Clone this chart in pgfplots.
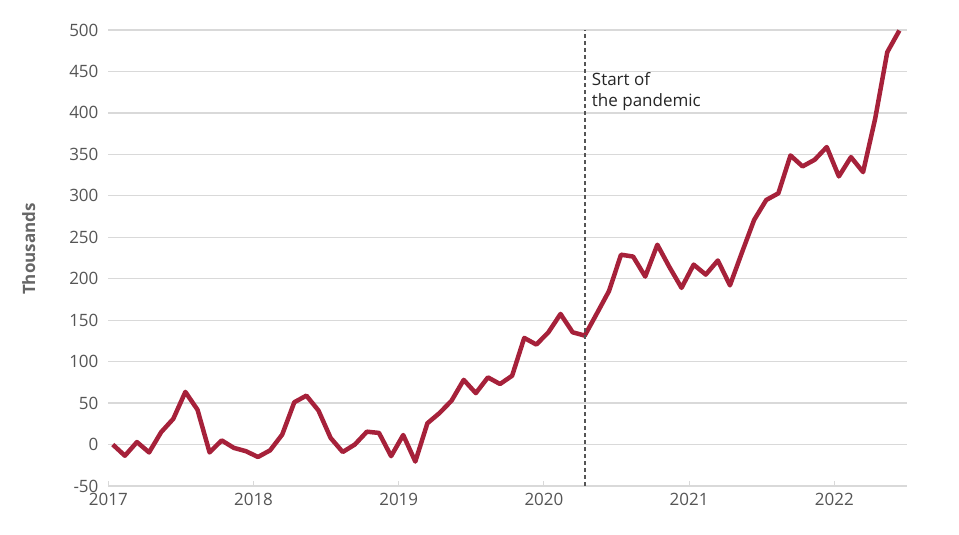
\documentclass[border=0pt]{standalone}
\usepackage{pgfplots}
\pgfplotsset{compat=1.18}
\usepackage{fontspec}
\setmainfont{Open Sans}
\definecolor{linered}{HTML}{A6213A}
\definecolor{gridgray}{HTML}{D9D9D9}
\definecolor{textgray}{HTML}{555555}
\begin{document}
\fontsize{17}{21}\selectfont
\begin{tikzpicture}
\path[use as bounding box] (-108.3pt,-49pt) rectangle (850.7pt,486pt);
\begin{axis}[
  scale only axis,
  width=798.7pt, height=456pt,
  xmin=0, xmax=66,
  ymin=-50, ymax=500,
  xtick={0,12,24,36,48,60},
  xticklabels={2017,2018,2019,2020,2021,2022},
  ytick={-50,0,50,...,500},
  axis line style={draw=none},
  axis x line*=bottom,
  x axis line style={draw=gridgray, line width=1.2pt},
  ymajorgrids,
  grid style={draw=gridgray, line width=1.2pt},
  major tick length=5pt,
  xtick style={draw=gridgray, line width=1pt},
  ytick style={draw=none},
  xtick pos=bottom,
  tick label style={text=textgray, font=\fontsize{17}{21}\selectfont},
  /pgf/number format/assume math mode=true,
  yticklabel style={xshift=-4pt},
  xticklabel style={yshift=-1pt},
  clip=false,
]
\addplot[linered, line width=4.5pt, line join=round] table[x expr=\coordindex+0.37, y=v] {
v
0
-13.5
3
-9.5
15
31
63.5
42
-9.5
5
-4
-8
-15
-7
12
51
59
41
8
-9
0
15.5
14
-14
11.5
-20.5
25.7
38
53
78
62
81
73
83
128.6
120.6
135.4
157.5
135.4
131.4
158
185
229
226.7
202.6
241
214
189
217
205
222
192
232
271
295
303
348.7
335.5
343.5
358.8
323.4
346.7
328.6
393
473.3
499.4
};
\draw[textgray, line width=1.6pt, dash pattern=on 4pt off 3pt] (axis cs:39.37,-50) -- (axis cs:39.37,500);
\node[anchor=north west, align=left, inner sep=0pt, font=\fontsize{17}{21}\selectfont, text=black!85] at (axis cs:39.95,449) {Start of\\the pandemic};
\node[rotate=90, anchor=center, inner sep=0pt, text=textgray!90, font=\bfseries\fontsize{17}{21}\selectfont] at ([xshift=-79.5pt,yshift=9pt]rel axis cs:0,0.5) {Thousands};
\end{axis}
\end{tikzpicture}
\end{document}
